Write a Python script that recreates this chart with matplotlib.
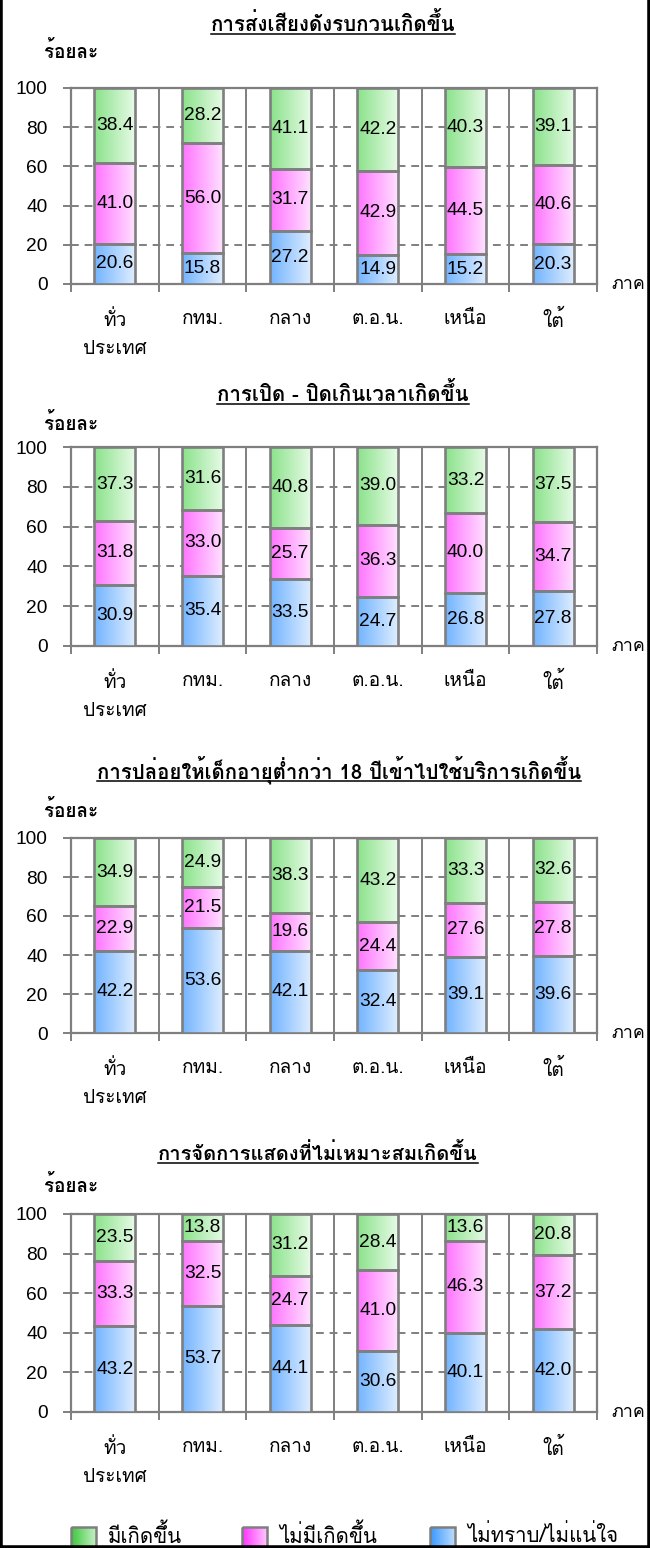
import numpy as np
import matplotlib
matplotlib.use('Agg')
import matplotlib.pyplot as plt
from matplotlib import font_manager as fm
from matplotlib.colors import LinearSegmentedColormap
from matplotlib.patches import Rectangle
from matplotlib.lines import Line2D

# ---- data ----
regions = ['ทั่ว\nประเทศ', 'กทม.', 'กลาง', 'ต.อ.น.', 'เหนือ', 'ใต้']
series = ['มีเกิดขึ้น', 'ไม่มีเกิดขึ้น', 'ไม่ทราบ/ไม่แน่ใจ']
titles = [
    'การส่งเสียงดังรบกวนเกิดขึ้น',
    'การเปิด - ปิดเกินเวลาเกิดขึ้น',
    'การปล่อยให้เด็กอายุต่ำกว่า 18 ปีเข้าไปใช้บริการเกิดขึ้น',
    'การจัดการแสดงที่ไม่เหมาะสมเกิดขึ้น',
]
# bottom segment: ไม่ทราบ/ไม่แน่ใจ
unsure = [
    [20.6, 15.8, 27.2, 14.9, 15.2, 20.3],
    [30.9, 35.4, 33.5, 24.7, 26.8, 27.8],
    [42.2, 53.6, 42.1, 32.4, 39.1, 39.6],
    [43.2, 53.7, 44.1, 30.6, 40.1, 42.0],
]
# middle segment: ไม่มีเกิดขึ้น
not_occurred = [
    [41.0, 56.0, 31.7, 42.9, 44.5, 40.6],
    [31.8, 33.0, 25.7, 36.3, 40.0, 34.7],
    [22.9, 21.5, 19.6, 24.4, 27.6, 27.8],
    [33.3, 32.5, 24.7, 41.0, 46.3, 37.2],
]
# top segment: มีเกิดขึ้น
occurred = [
    [38.4, 28.2, 41.1, 42.2, 40.3, 39.1],
    [37.3, 31.6, 40.8, 39.0, 33.2, 37.5],
    [34.9, 24.9, 38.3, 43.2, 33.3, 32.6],
    [23.5, 13.8, 31.2, 28.4, 13.6, 20.8],
]
yticks = [0, 20, 40, 60, 80, 100]

# Thai font: looped sans close to Tahoma if we have one
names = {f.name for f in fm.fontManager.ttflist}
TH = 'DejaVu Sans'
for p in ['Tahoma', 'Loma', 'IBM Plex Sans Thai Looped', 'Sarabun',
          'Noto Sans Thai Looped', 'Noto Sans Thai', 'Anuphan']:
    if p in names:
        TH = p
        break
plt.rcParams['font.family'] = [TH, 'DejaVu Sans']
NUM = ['Liberation Sans', 'DejaVu Sans']

W, H = 650, 1548
fig = plt.figure(figsize=(W / 100, H / 100), dpi=100)

GRAY = '#7f7f7f'
cmaps = [
    LinearSegmentedColormap.from_list('g', ['#8ae28a', '#e8fbe8']),
    LinearSegmentedColormap.from_list('p', ['#ff74ff', '#ffe2ff']),
    LinearSegmentedColormap.from_list('b', ['#72b4ff', '#e0eeff']),
]
grad = np.linspace(0, 1, 64).reshape(1, -1)

# axes boxes in pixels (top, bottom)
boxes = [(88, 284), (447, 646), (838, 1033), (1214, 1412)]
ylab_y = [52, 423, 810, 1185]
title_ul = [34, 404, 781, 1163]
title_x = [333, 343, 339, 318]
title_w = [245, 253, 484, 320]
AX_L, AX_R = 71, 597

axes, title_texts, ylabs, xlabs = [], [], [], []
for k in range(4):
    top, bot = boxes[k]
    ax = fig.add_axes([AX_L / W, 1 - bot / H, (AX_R - AX_L) / W, (bot - top) / H])
    axes.append(ax)
    x = np.arange(len(regions))
    a = np.array(unsure[k])
    b = np.array(not_occurred[k])
    c = np.array(occurred[k])
    stacks = [(c, a + b, 0), (b, a, 1), (a, np.zeros_like(a), 2)]
    for vals, base, ci in stacks:
        bars = ax.bar(x, vals, 0.47, bottom=base, facecolor='none',
                      edgecolor=GRAY, linewidth=1.9, zorder=4)
        for p, v in zip(bars.patches, vals):
            ax.imshow(grad, cmap=cmaps[ci], aspect='auto', zorder=3,
                      interpolation='bilinear',
                      extent=[p.get_x(), p.get_x() + p.get_width(),
                              p.get_y(), p.get_y() + p.get_height()])
            ax.text(p.get_x() + p.get_width() / 2, p.get_y() + p.get_height() / 2,
                    f'{v:.1f}', ha='center', va='center', fontsize=13.8,
                    family=NUM, zorder=5)

    ax.set_xlim(-0.5, len(regions) - 0.5)
    ax.set_ylim(0, 100)
    ax.set_yticks(yticks)
    ax.set_yticklabels([str(t) for t in yticks], fontsize=13.8, family=NUM)
    ax.tick_params(axis='y', length=6, width=1.4, color=GRAY, pad=11)
    ax.set_xticks(np.arange(-0.5, len(regions)), [''] * (len(regions) + 1))
    ax.set_xticks(x, regions, minor=True, fontweight=500)
    ax.tick_params(axis='x', which='major', length=6, width=1.4, color=GRAY)
    ax.tick_params(axis='x', which='minor', length=0, pad=19, labelsize=14.5)
    for lab in ax.get_xticklabels(minor=True):
        lab.set_linespacing(1.7)
    ax.yaxis.grid(True, linestyle=(0, (4, 3)), color=GRAY, linewidth=1.4, zorder=1)
    ax.xaxis.grid(True, which='major', linestyle='-', color=GRAY, linewidth=1.4, zorder=1)
    ax.set_axisbelow(True)
    for s in ax.spines.values():
        s.set_color(GRAY)
        s.set_linewidth(1.6)

    xlabs.append(ax.text(1.027, 0, 'ภาค', transform=ax.transAxes, ha='left',
                         va='center', fontsize=14.5, fontweight=500))
    ylabs.append(fig.text(44 / W, 1 - ylab_y[k] / H, 'ร้อยละ', ha='left', va='center',
                          fontsize=14, fontweight='bold'))
    t = fig.text(title_x[k] / W, 1 - (title_ul[k] - 3) / H, titles[k], ha='center',
                 va='baseline', fontsize=14.5, fontweight='bold')
    title_texts.append(t)

# legend row (pixel coordinates, y downward)
lax = fig.add_axes([0, 0, 1, 50 / H])
lax.axis('off')
leg_cmaps = [
    LinearSegmentedColormap.from_list('lg', ['#3cc83c', '#c4f0c4']),
    LinearSegmentedColormap.from_list('lp', ['#ff33ff', '#ffc4ff']),
    LinearSegmentedColormap.from_list('lb', ['#3898ff', '#bcdcff']),
]
leg_x = [71, 242, 430]
leg_texts = []
for i, name in enumerate(series):
    x0 = leg_x[i]
    lax.imshow(grad, cmap=leg_cmaps[i], aspect='auto', extent=[x0, x0 + 25, H, 1527])
    lax.add_patch(Rectangle((x0, 1527), 25, 30, facecolor='none', edgecolor=GRAY, lw=1.8))
    leg_texts.append(lax.text(x0 + 37, 1535, name, ha='left', va='center',
                              fontsize=15.5, fontweight=500))
lax.set_xlim(0, W)
lax.set_ylim(H, H - 50)


# scale Thai text so its width matches the reference, whatever font we got
fig.canvas.draw()
r = fig.canvas.get_renderer()


def width(t):
    return t.get_window_extent(r).width


for t, w in zip(title_texts, title_w):
    t.set_fontsize(t.get_fontsize() * w / width(t))
s = 54 / width(ylabs[0])
for t in ylabs:
    t.set_fontsize(t.get_fontsize() * s)
s = 34 / width(xlabs[0])
for t in xlabs:
    t.set_fontsize(t.get_fontsize() * s)
s = 98 / width(leg_texts[1])
for t in leg_texts:
    t.set_fontsize(min(t.get_fontsize() * s, 17))
s = 42 / width(axes[0].get_xticklabels(minor=True)[1])
for ax in axes:
    ax.tick_params(axis='x', which='minor', labelsize=14.5 * s)

# underline titles
fig.canvas.draw()
for t, uy in zip(title_texts, title_ul):
    bb = t.get_window_extent(r).transformed(fig.transFigure.inverted())
    fig.add_artist(Line2D([bb.x0, bb.x1], [1 - uy / H] * 2, transform=fig.transFigure,
                          color='black', lw=1.1))

# black frame (left, right, bottom)
for xs, ys in [([0, 0], [0, 1]), ([1, 1], [0, 1]), ([0, 1], [0, 0])]:
    fig.add_artist(Line2D(xs, ys, transform=fig.transFigure, color='black', lw=4))

fig.savefig('out.png', dpi=100)
